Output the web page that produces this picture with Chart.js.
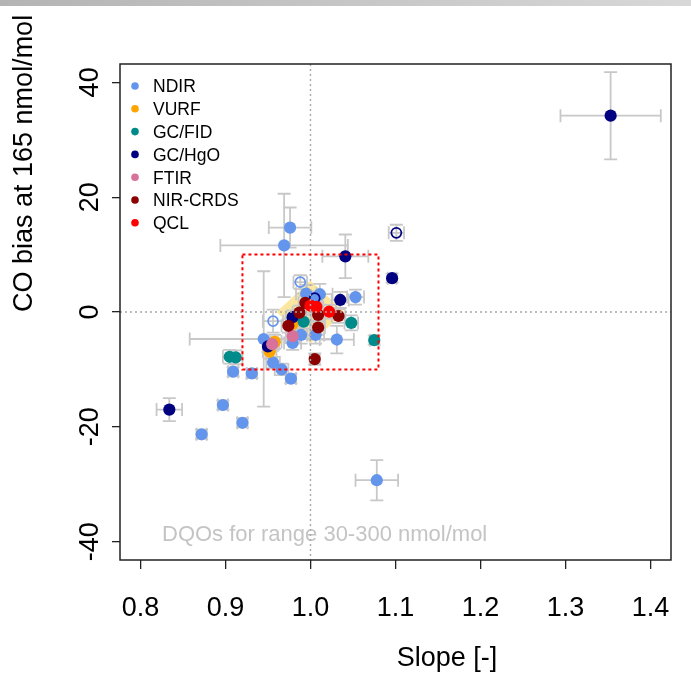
<!DOCTYPE html>
<html lang="en">
<head>
  <meta charset="UTF-8">
  <title>CO bias vs slope</title>
  <script src="https://cdn.jsdelivr.net/npm/chart.js@4.4.3/dist/chart.umd.min.js"></script>
  <style>
    html, body { margin: 0; padding: 0; background: #fff; }
    canvas { display: block; }
  </style>
</head>
<body>
  <canvas id="chart" width="691" height="673"></canvas>

  <script>
    // each point: [slope, bias at 165, slope err, bias err]
    const ndir = [
      [0.969, 11.6, 0.075, 9.0], [0.976, 14.7, 0.025, 3.5], [0.995, 3.2, 0.012, 1.5],
      [1.011, 3.1, 0.015, 1.8], [1.053, 2.6, 0.010, 1.3], [1.005, 2.4, 0.008, 1.2],
      [0.989, -4.0, 0.010, 1.5], [1.006, -4.0, 0.010, 1.5], [1.031, -4.8, 0.020, 2.4],
      [0.979, -5.4, 0.010, 1.2], [0.945, -4.7, 0.087, 11.8], [0.956, -8.8, 0.008, 1.0],
      [0.966, -10.0, 0.008, 1.0], [0.977, -11.6, 0.006, 0.8], [0.931, -10.7, 0.006, 0.8],
      [0.909, -10.4, 0.006, 0.8], [0.897, -16.2, 0.006, 0.8], [0.920, -19.3, 0.006, 0.8],
      [0.872, -21.3, 0.006, 0.8], [1.078, -29.3, 0.025, 3.5]
    ];
    const ndirOpen = [[0.988, 5.2, 0.008, 1.2], [0.956, -1.6, 0.012, 2.0]];
    const vurf = [[0.958, -5.2, 0.008, 1.2], [0.952, -6.9, 0.008, 1.2], [0.979, -2.1, 0.008, 1.2]];
    const gcFid = [
      [0.905, -7.8, 0.008, 1.2], [0.912, -7.9, 0.008, 1.2], [0.992, -1.7, 0.008, 1.2],
      [1.048, -1.9, 0.008, 1.3], [1.075, -4.9, 0.005, 0.8]
    ];
    const gcHgo = [
      [1.353, 34.2, 0.059, 7.6], [0.834, -17.0, 0.015, 2.0], [1.041, 9.7, 0.027, 3.8],
      [1.096, 5.9, 0.005, 0.8], [1.035, 2.1, 0.010, 1.4], [0.979, -0.9, 0.008, 1.2],
      [0.950, -6.0, 0.006, 1.0]
    ];
    const gcHgoOpen = [[1.101, 13.8, 0.009, 1.4], [1.005, 2.4, 0.008, 1.2]];
    const ftir = [[0.979, -4.2, 0.008, 1.2], [0.955, -5.6, 0.008, 1.2]];
    const nirCrds = [
      [0.994, 1.6, 0.008, 1.2], [0.987, -0.1, 0.008, 1.2], [1.033, -0.7, 0.008, 1.2],
      [1.009, -0.5, 0.008, 1.2], [0.974, -2.4, 0.008, 1.2], [1.009, -2.7, 0.008, 1.2],
      [1.005, -8.2, 0.006, 1.0]
    ];
    const qcl = [[1.000, 1.1, 0.008, 1.2], [1.007, 0.9, 0.008, 1.2], [1.022, 0.05, 0.008, 1.2]];

    const xTicks = [0.8, 0.9, 1.0, 1.1, 1.2, 1.3, 1.4];
    const yTicks = [-40, -20, 0, 20, 40];
    const dqoSlope = [0.92, 1.08];
    const dqoBias = [-10, 10];
    const wmoDiamond = [[1.0, 5.5], [1.04, 0], [1.0, -5.5], [0.96, 0]];

    const FONT = '"Liberation Sans", Arial, sans-serif';

    function toPoints(arr) {
      return arr.map(p => ({ x: p[0], y: p[1], ex: p[2], ey: p[3] }));
    }

    function series(label, arr, color, order, open) {
      return {
        label: label,
        data: toPoints(arr),
        order: order,
        open: !!open,
        pointRadius: open ? 5 : 6.1,
        pointHoverRadius: open ? 5 : 6.1,
        pointBorderWidth: open ? 1.7 : 0,
        backgroundColor: open ? 'rgba(0,0,0,0)' : color,
        borderColor: color
      };
    }

    const datasets = [
      series('NDIR', ndir, '#6495ED', 9),
      series('NDIR open', ndirOpen, '#6495ED', 8, true),
      series('VURF', vurf, '#FFA500', 7),
      series('GC/FID', gcFid, '#008B8B', 6),
      series('GC/HgO', gcHgo, '#000080', 5),
      series('GC/HgO open', gcHgoOpen, '#000080', 4, true),
      series('FTIR', ftir, '#D8729A', 3),
      series('NIR-CRDS', nirCrds, '#8B0000', 2),
      series('QCL', qcl, '#FF0000', 1)
    ];

    const decor = {
      id: 'decor',
      beforeDatasetsDraw(chart) {
        const { ctx, scales: { x, y } } = chart;
        ctx.save();
        // compatibility diamond
        ctx.beginPath();
        wmoDiamond.forEach((p, i) => {
          const px = x.getPixelForValue(p[0]), py = y.getPixelForValue(p[1]);
          if (i) ctx.lineTo(px, py); else ctx.moveTo(px, py);
        });
        ctx.closePath();
        ctx.fillStyle = '#FBE7A0';
        ctx.fill();

        // error bars
        ctx.strokeStyle = '#c8c8c8';
        ctx.lineWidth = 1.8;
        const cap = 6.5;
        chart.data.datasets.forEach(ds => ds.data.forEach(p => {
          const px = x.getPixelForValue(p.x), py = y.getPixelForValue(p.y);
          const x0 = x.getPixelForValue(p.x - p.ex), x1 = x.getPixelForValue(p.x + p.ex);
          const y0 = y.getPixelForValue(p.y - p.ey), y1 = y.getPixelForValue(p.y + p.ey);
          ctx.beginPath();
          ctx.moveTo(x0, py); ctx.lineTo(x1, py);
          ctx.moveTo(x0, py - cap); ctx.lineTo(x0, py + cap);
          ctx.moveTo(x1, py - cap); ctx.lineTo(x1, py + cap);
          ctx.moveTo(px, y0); ctx.lineTo(px, y1);
          ctx.moveTo(px - cap, y0); ctx.lineTo(px + cap, y0);
          ctx.moveTo(px - cap, y1); ctx.lineTo(px + cap, y1);
          ctx.stroke();
        }));
        ctx.restore();
      },
      afterDatasetsDraw(chart) {
        const { ctx, chartArea: a, scales: { x, y } } = chart;
        ctx.save();

        // DQO text
        ctx.fillStyle = '#c4c4c4';
        ctx.font = '22px ' + FONT;
        ctx.textAlign = 'left';
        ctx.textBaseline = 'alphabetic';
        ctx.fillText('DQOs for range 30-300 nmol/mol', 162, 541);

        // reference lines
        ctx.strokeStyle = '#a8a8a8';
        ctx.lineWidth = 1.4;
        ctx.setLineDash([2, 3]);
        const x1 = x.getPixelForValue(1), y0 = y.getPixelForValue(0);
        ctx.beginPath();
        ctx.moveTo(x1, a.top); ctx.lineTo(x1, a.bottom);
        ctx.moveTo(a.left, y0); ctx.lineTo(a.right, y0);
        ctx.stroke();

        // DQO box
        ctx.strokeStyle = '#FF0000';
        ctx.lineWidth = 2;
        ctx.setLineDash([3, 3]);
        const bx0 = x.getPixelForValue(dqoSlope[0]), bx1 = x.getPixelForValue(dqoSlope[1]);
        const by0 = y.getPixelForValue(dqoBias[1]), by1 = y.getPixelForValue(dqoBias[0]);
        ctx.strokeRect(bx0, by0, bx1 - bx0, by1 - by0);
        ctx.setLineDash([]);

        // frame
        ctx.strokeStyle = '#222';
        ctx.lineWidth = 1.5;
        ctx.strokeRect(a.left, a.top, a.right - a.left, a.bottom - a.top);

        // tick labels
        ctx.fillStyle = '#000';
        ctx.font = '27px ' + FONT;
        ctx.textAlign = 'center';
        xTicks.forEach(v => ctx.fillText(v.toFixed(1), x.getPixelForValue(v), 616));
        yTicks.forEach(v => {
          ctx.save();
          ctx.translate(98, y.getPixelForValue(v));
          ctx.rotate(-Math.PI / 2);
          ctx.fillText(String(v), 0, 0);
          ctx.restore();
        });

        // axis titles
        ctx.fillText('Slope [-]', 447, 666);
        ctx.save();
        ctx.translate(32, 312);
        ctx.rotate(-Math.PI / 2);
        ctx.textAlign = 'left';
        ctx.fillText('CO bias at 165 nmol/mol', 0, 0);
        ctx.restore();

        // legend
        ctx.font = '17.5px ' + FONT;
        ctx.textAlign = 'left';
        chart.data.datasets.filter(ds => !ds.open).forEach((ds, i) => {
          const ry = 86 + i * 22.8;
          ctx.fillStyle = ds.backgroundColor;
          ctx.beginPath();
          ctx.arc(135, ry, 3.8, 0, Math.PI * 2);
          ctx.fill();
          ctx.fillStyle = '#000';
          ctx.fillText(ds.label, 153, ry + 6.3);
        });

        // grey strip along the top edge
        const g = ctx.createLinearGradient(0, 0, chart.width, 0);
        g.addColorStop(0, '#b4b4b4');
        g.addColorStop(1, '#d8d8d8');
        ctx.fillStyle = g;
        ctx.fillRect(0, 0, chart.width, 6);
        ctx.restore();
      }
    };

    new Chart(document.getElementById('chart'), {
      type: 'scatter',
      data: { datasets: datasets },
      options: {
        responsive: false,
        animation: false,
        events: [],
        layout: { padding: { left: 112, right: 20, top: 64, bottom: 104 } },
        plugins: { legend: { display: false }, tooltip: { enabled: false } },
        scales: {
          x: {
            type: 'linear',
            min: 0.776,
            max: 1.424,
            afterBuildTicks: s => { s.ticks = xTicks.map(v => ({ value: v })); },
            afterFit: s => { s.height = 9; },
            ticks: { display: false },
            border: { display: false },
            grid: { drawOnChartArea: false, drawTicks: true, tickLength: 9, color: '#222', lineWidth: 1.3 }
          },
          y: {
            type: 'linear',
            min: -43.2,
            max: 43.2,
            afterBuildTicks: s => { s.ticks = yTicks.map(v => ({ value: v })); },
            afterFit: s => { s.width = 8; },
            ticks: { display: false },
            border: { display: false },
            grid: { drawOnChartArea: false, drawTicks: true, tickLength: 8, color: '#222', lineWidth: 1.3 }
          }
        }
      },
      plugins: [decor]
    });
  </script>
</body>
</html>
